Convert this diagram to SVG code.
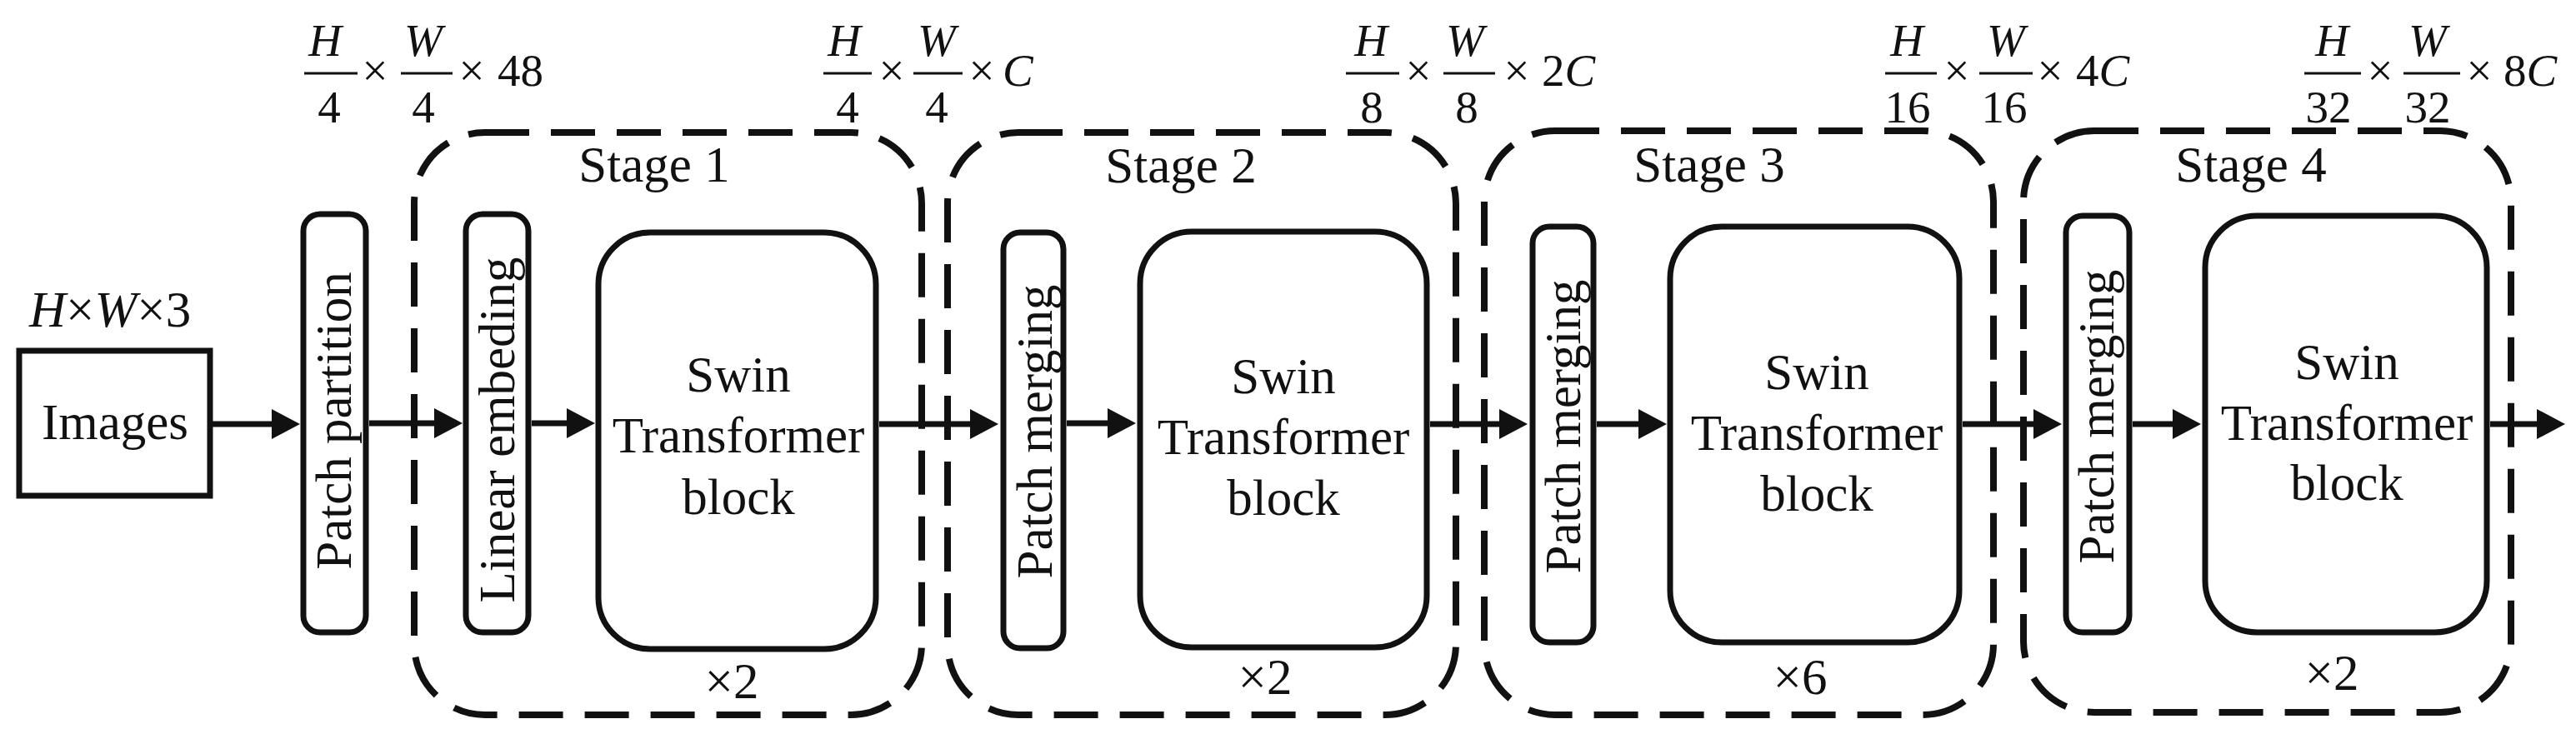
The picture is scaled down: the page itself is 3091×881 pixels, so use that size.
<svg xmlns="http://www.w3.org/2000/svg" width="3091" height="881" viewBox="0 0 3091 881">
<defs>
<marker id="ah" viewBox="0 0 34 36" refX="6" refY="18" markerWidth="34" markerHeight="36" markerUnits="userSpaceOnUse" orient="auto">
<path d="M0,0 L34,18 L0,36 Z" fill="#111"/>
</marker>
</defs>
<rect width="3091" height="881" fill="#fff"/>

<g id="dims" fill="#111">
<text x="35" y="392" style="font-family:'Liberation Serif',serif;font-size:61px"><tspan font-style="italic">H</tspan>×<tspan font-style="italic">W</tspan>×3</text>
<text x="390" y="67" text-anchor="middle" style="font-family:'Liberation Serif',serif;font-size:55px;font-style:italic">H</text>
<text x="395" y="147" text-anchor="middle" style="font-family:'Liberation Serif',serif;font-size:55px">4</text>
<text x="450" y="103" text-anchor="middle" style="font-family:'Liberation Serif',serif;font-size:55px">×</text>
<text x="508" y="67" text-anchor="middle" style="font-family:'Liberation Serif',serif;font-size:55px;font-style:italic">W</text>
<text x="508" y="147" text-anchor="middle" style="font-family:'Liberation Serif',serif;font-size:55px">4</text>
<text x="566" y="103" text-anchor="middle" style="font-family:'Liberation Serif',serif;font-size:55px">×</text>
<text x="597" y="103" style="font-family:'Liberation Serif',serif;font-size:55px">48</text>
<text x="1013" y="67" text-anchor="middle" style="font-family:'Liberation Serif',serif;font-size:55px;font-style:italic">H</text>
<text x="1017" y="147" text-anchor="middle" style="font-family:'Liberation Serif',serif;font-size:55px">4</text>
<text x="1070" y="103" text-anchor="middle" style="font-family:'Liberation Serif',serif;font-size:55px">×</text>
<text x="1124" y="67" text-anchor="middle" style="font-family:'Liberation Serif',serif;font-size:55px;font-style:italic">W</text>
<text x="1124" y="147" text-anchor="middle" style="font-family:'Liberation Serif',serif;font-size:55px">4</text>
<text x="1178" y="103" text-anchor="middle" style="font-family:'Liberation Serif',serif;font-size:55px">×</text>
<text x="1203" y="103" style="font-family:'Liberation Serif',serif;font-size:55px;font-style:italic">C</text>
<text x="1645" y="67" text-anchor="middle" style="font-family:'Liberation Serif',serif;font-size:55px;font-style:italic">H</text>
<text x="1646" y="147" text-anchor="middle" style="font-family:'Liberation Serif',serif;font-size:55px">8</text>
<text x="1702" y="103" text-anchor="middle" style="font-family:'Liberation Serif',serif;font-size:55px">×</text>
<text x="1758" y="67" text-anchor="middle" style="font-family:'Liberation Serif',serif;font-size:55px;font-style:italic">W</text>
<text x="1760" y="147" text-anchor="middle" style="font-family:'Liberation Serif',serif;font-size:55px">8</text>
<text x="1820" y="103" text-anchor="middle" style="font-family:'Liberation Serif',serif;font-size:55px">×</text>
<text x="1850" y="103" style="font-family:'Liberation Serif',serif;font-size:55px">2<tspan font-style="italic">C</tspan></text>
<text x="2288" y="67" text-anchor="middle" style="font-family:'Liberation Serif',serif;font-size:55px;font-style:italic">H</text>
<text x="2289" y="147" text-anchor="middle" style="font-family:'Liberation Serif',serif;font-size:55px">16</text>
<text x="2348" y="103" text-anchor="middle" style="font-family:'Liberation Serif',serif;font-size:55px">×</text>
<text x="2407" y="67" text-anchor="middle" style="font-family:'Liberation Serif',serif;font-size:55px;font-style:italic">W</text>
<text x="2405" y="147" text-anchor="middle" style="font-family:'Liberation Serif',serif;font-size:55px">16</text>
<text x="2460" y="103" text-anchor="middle" style="font-family:'Liberation Serif',serif;font-size:55px">×</text>
<text x="2491" y="103" style="font-family:'Liberation Serif',serif;font-size:55px">4<tspan font-style="italic">C</tspan></text>
<text x="2798" y="67" text-anchor="middle" style="font-family:'Liberation Serif',serif;font-size:55px;font-style:italic">H</text>
<text x="2794" y="147" text-anchor="middle" style="font-family:'Liberation Serif',serif;font-size:55px">32</text>
<text x="2856" y="103" text-anchor="middle" style="font-family:'Liberation Serif',serif;font-size:55px">×</text>
<text x="2913" y="67" text-anchor="middle" style="font-family:'Liberation Serif',serif;font-size:55px;font-style:italic">W</text>
<text x="2913" y="147" text-anchor="middle" style="font-family:'Liberation Serif',serif;font-size:55px">32</text>
<text x="2975" y="103" text-anchor="middle" style="font-family:'Liberation Serif',serif;font-size:55px">×</text>
<text x="3004" y="103" style="font-family:'Liberation Serif',serif;font-size:55px">8<tspan font-style="italic">C</tspan></text>
<g stroke="#111" stroke-width="3">
<line x1="365" y1="88" x2="429" y2="88"/><line x1="481" y1="88" x2="543" y2="88"/>
<line x1="988" y1="88" x2="1046" y2="88"/><line x1="1096" y1="88" x2="1155" y2="88"/>
<line x1="1615" y1="88" x2="1679" y2="88"/><line x1="1732" y1="88" x2="1794" y2="88"/>
<line x1="2262" y1="88" x2="2324" y2="88"/><line x1="2375" y1="88" x2="2439" y2="88"/>
<line x1="2765" y1="88" x2="2833" y2="88"/><line x1="2884" y1="88" x2="2952" y2="88"/>
</g>
</g>

<g id="stage1" fill="#111">
<rect x="497" y="159" width="609" height="699" rx="85" ry="85" fill="none" stroke="#111" stroke-width="8" stroke-dasharray="53 26"/>
<text x="785" y="218" text-anchor="middle" style="font-family:'Liberation Serif',serif;font-size:61px">Stage 1</text>
<text x="878" y="838" text-anchor="middle" style="font-family:'Liberation Serif',serif;font-size:61px">×2</text>
</g>
<g id="stage2" fill="#111">
<rect x="1137" y="159" width="610" height="699" rx="85" ry="85" fill="none" stroke="#111" stroke-width="8" stroke-dasharray="53 26"/>
<text x="1417" y="219" text-anchor="middle" style="font-family:'Liberation Serif',serif;font-size:61px">Stage 2</text>
<text x="1518" y="833" text-anchor="middle" style="font-family:'Liberation Serif',serif;font-size:61px">×2</text>
</g>
<g id="stage3" fill="#111">
<rect x="1781" y="157" width="611" height="701" rx="85" ry="85" fill="none" stroke="#111" stroke-width="8" stroke-dasharray="53 26"/>
<text x="2051" y="218" text-anchor="middle" style="font-family:'Liberation Serif',serif;font-size:61px">Stage 3</text>
<text x="2160" y="833" text-anchor="middle" style="font-family:'Liberation Serif',serif;font-size:61px">×6</text>
</g>
<g id="stage4" fill="#111">
<rect x="2428" y="157" width="585" height="698" rx="85" ry="85" fill="none" stroke="#111" stroke-width="8" stroke-dasharray="53 26"/>
<text x="2701" y="218" text-anchor="middle" style="font-family:'Liberation Serif',serif;font-size:61px">Stage 4</text>
<text x="2798" y="828" text-anchor="middle" style="font-family:'Liberation Serif',serif;font-size:61px">×2</text>
</g>

<g id="images" fill="#111">
<rect x="23" y="421" width="229" height="174" fill="none" stroke="#111" stroke-width="7"/>
<text x="138" y="527" text-anchor="middle" style="font-family:'Liberation Serif',serif;font-size:61px">Images</text>
</g>
<g id="patch-partition" fill="#111">
<rect x="364" y="257" width="75" height="502" rx="20" ry="20" fill="none" stroke="#111" stroke-width="7"/>
<text x="421" y="505" text-anchor="middle" transform="rotate(-90 421 505)" style="font-family:'Liberation Serif',serif;font-size:61px">Patch partition</text>
</g>
<g id="linear-embeding" fill="#111">
<rect x="559" y="257" width="75" height="502" rx="20" ry="20" fill="none" stroke="#111" stroke-width="7"/>
<text x="617" y="516" text-anchor="middle" transform="rotate(-90 617 516)" style="font-family:'Liberation Serif',serif;font-size:61px">Linear embeding</text>
</g>
<g id="swin1" fill="#111">
<rect x="718" y="279" width="333" height="500" rx="62" ry="62" fill="none" stroke="#111" stroke-width="7"/>
<text x="886" y="470" text-anchor="middle" style="font-family:'Liberation Serif',serif;font-size:61px">Swin</text>
<text x="886" y="543" text-anchor="middle" style="font-family:'Liberation Serif',serif;font-size:61px">Transformer</text>
<text x="886" y="617" text-anchor="middle" style="font-family:'Liberation Serif',serif;font-size:61px">block</text>
</g>
<g id="patch-merging2" fill="#111">
<rect x="1204" y="279" width="72" height="499" rx="20" ry="20" fill="none" stroke="#111" stroke-width="7"/>
<text x="1262" y="518" text-anchor="middle" transform="rotate(-90 1262 518)" style="font-family:'Liberation Serif',serif;font-size:61px">Patch merging</text>
</g>
<g id="swin2" fill="#111">
<rect x="1368" y="278" width="344" height="499" rx="62" ry="62" fill="none" stroke="#111" stroke-width="7"/>
<text x="1540" y="472" text-anchor="middle" style="font-family:'Liberation Serif',serif;font-size:61px">Swin</text>
<text x="1540" y="545" text-anchor="middle" style="font-family:'Liberation Serif',serif;font-size:61px">Transformer</text>
<text x="1540" y="618" text-anchor="middle" style="font-family:'Liberation Serif',serif;font-size:61px">block</text>
</g>
<g id="patch-merging3" fill="#111">
<rect x="1839" y="272" width="73" height="499" rx="20" ry="20" fill="none" stroke="#111" stroke-width="7"/>
<text x="1896" y="512" text-anchor="middle" transform="rotate(-90 1896 512)" style="font-family:'Liberation Serif',serif;font-size:61px">Patch merging</text>
</g>
<g id="swin3" fill="#111">
<rect x="2004" y="272" width="347" height="499" rx="62" ry="62" fill="none" stroke="#111" stroke-width="7"/>
<text x="2180" y="467" text-anchor="middle" style="font-family:'Liberation Serif',serif;font-size:61px">Swin</text>
<text x="2180" y="540" text-anchor="middle" style="font-family:'Liberation Serif',serif;font-size:61px">Transformer</text>
<text x="2180" y="613" text-anchor="middle" style="font-family:'Liberation Serif',serif;font-size:61px">block</text>
</g>
<g id="patch-merging4" fill="#111">
<rect x="2479" y="259" width="76" height="500" rx="20" ry="20" fill="none" stroke="#111" stroke-width="7"/>
<text x="2536" y="500" text-anchor="middle" transform="rotate(-90 2536 500)" style="font-family:'Liberation Serif',serif;font-size:61px">Patch merging</text>
</g>
<g id="swin4" fill="#111">
<rect x="2646" y="259" width="338" height="500" rx="62" ry="62" fill="none" stroke="#111" stroke-width="7"/>
<text x="2816" y="455" text-anchor="middle" style="font-family:'Liberation Serif',serif;font-size:61px">Swin</text>
<text x="2816" y="528" text-anchor="middle" style="font-family:'Liberation Serif',serif;font-size:61px">Transformer</text>
<text x="2816" y="600" text-anchor="middle" style="font-family:'Liberation Serif',serif;font-size:61px">block</text>
</g>

<g id="connectors" stroke="#111" stroke-width="7" fill="none" marker-end="url(#ah)">
<path d="M254,509 H332"/>
<path d="M443,508 H527"/>
<path d="M638,508 H686"/>
<path d="M1055,509 H1170"/>
<path d="M1280,508 H1335"/>
<path d="M1716,509 H1805"/>
<path d="M1916,509 H1972"/>
<path d="M2355,509 H2446"/>
<path d="M2559,509 H2613"/>
<path d="M2988,509 H3050"/>
</g>
</svg>
